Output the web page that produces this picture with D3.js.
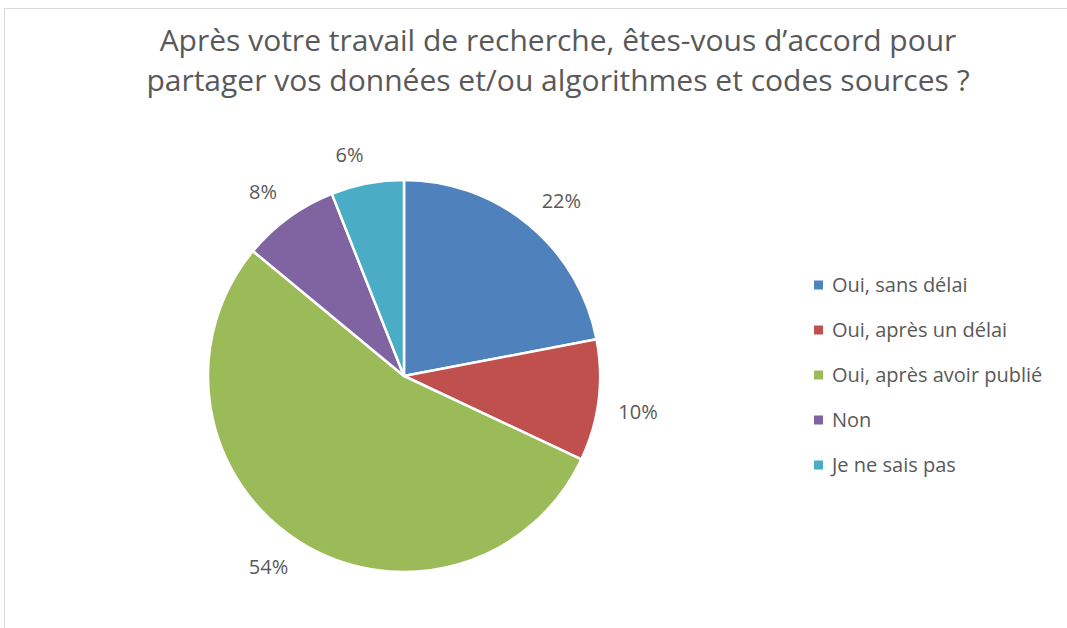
<!DOCTYPE html>
<html>
<head>
<meta charset="utf-8">
<script src="https://cdn.jsdelivr.net/npm/d3@7"></script>
<style>
  body { margin: 0; background: #fff; }
  text { font-family: "Open Sans", sans-serif; fill: #595959; }
</style>
</head>
<body>
<script>
// data
const categories = ['Oui, sans délai', 'Oui, après un délai', 'Oui, après avoir publié', 'Non', 'Je ne sais pas']
const values = [22, 10, 54, 8, 6]
const colors = ['#4F81BD', '#C0504D', '#9BBB59', '#8064A2', '#4BACC6']
const titleLines = ['Après votre travail de recherche, êtes-vous d’accord pour',
                    'partager vos données et/ou algorithmes et codes sources ?']

const dim = {width: 1067, height: 628}
const svg = d3.select('body').append('svg').attr('width', dim.width).attr('height', dim.height)

// chart frame (runs off right and bottom)
svg.append('rect')
  .attr('x', 4.5).attr('y', 8.5).attr('width', 1100).attr('height', 700)
  .attr('fill', 'none').attr('stroke', '#d9d9d9').attr('stroke-width', 1)

// title
svg.append('g').selectAll('text').data(titleLines).enter().append('text')
  .attr('x', 558).attr('y', (d, i) => 51 + i * 40)
  .attr('text-anchor', 'middle')
  .style('font-size', '30px')
  .text(d => d)

// pie
const cx = 404, cy = 376, r = 196
const color = d3.scaleOrdinal(categories, colors)
const pie = d3.pie().sort(null).value(d => d.v)
const arcs = pie(categories.map((c, i) => ({c, v: values[i]})))
const arc = d3.arc().innerRadius(0).outerRadius(r)
// the label box's nearest corner sits on this radius
const labelArc = d3.arc().innerRadius(216).outerRadius(216)

const g = svg.append('g').attr('transform', `translate(${cx},${cy})`)
g.selectAll('path').data(arcs).enter().append('path')
  .attr('d', arc)
  .attr('fill', d => color(d.data.c))
  .attr('stroke', '#fff')
  .attr('stroke-width', 2.5)
  .attr('stroke-linejoin', 'round')

const total = d3.sum(values)
const labels = g.selectAll('text').data(arcs).enter().append('text')
  .attr('text-anchor', 'middle')
  .attr('dy', '0.35em')
  .style('font-size', '20px')
  .text(d => Math.round(d.data.v / total * 100) + '%')
labels.attr('transform', function(d) {
  const [px, py] = labelArc.centroid(d)
  const w = this.getComputedTextLength(), h = 18
  const x = px + Math.sign(px) * w / 2
  const y = py + Math.sign(py) * h / 2
  return `translate(${x},${y})`
})

// legend
const legend = svg.append('g').attr('transform', 'translate(814,285)')
const item = legend.selectAll('g').data(categories).enter().append('g')
  .attr('transform', (d, i) => `translate(0,${i * 45})`)
item.append('rect')
  .attr('x', 0).attr('y', -4.5).attr('width', 9).attr('height', 9)
  .attr('fill', d => color(d))
item.append('text')
  .attr('x', 18).attr('dy', '0.35em')
  .style('font-size', '20px')
  .text(d => d)
</script>
</body>
</html>
